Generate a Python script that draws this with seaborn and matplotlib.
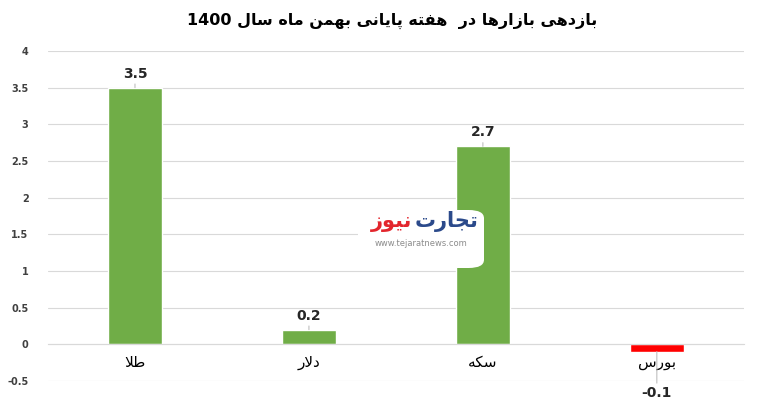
import matplotlib
matplotlib.use("Agg")
import matplotlib.pyplot as plt
from matplotlib.patches import FancyBboxPatch
import seaborn as sns
import pandas as pd

# data
categories = ["طلا", "دلار", "سکه", "بورس"]
values = [3.5, 0.2, 2.7, -0.1]
bar_colors = ["#70AD47", "#70AD47", "#70AD47", "#FF0000"]
y_ticks = [-0.5, 0, 0.5, 1, 1.5, 2, 2.5, 3, 3.5, 4]
title = "بازدهی بازارها در  هفته پایانی بهمن ماه سال 1400"

# minimal persian shaping (matplotlib has no RTL / joining support)
FORMS = {
    "ا": ("\uFE8D", "\uFE8E", None, None),
    "ب": ("\uFE8F", "\uFE90", "\uFE91", "\uFE92"),
    "پ": ("\uFB56", "\uFB57", "\uFB58", "\uFB59"),
    "ت": ("\uFE95", "\uFE96", "\uFE97", "\uFE98"),
    "ج": ("\uFE9D", "\uFE9E", "\uFE9F", "\uFEA0"),
    "د": ("\uFEA9", "\uFEAA", None, None),
    "ر": ("\uFEAD", "\uFEAE", None, None),
    "ز": ("\uFEAF", "\uFEB0", None, None),
    "س": ("\uFEB1", "\uFEB2", "\uFEB3", "\uFEB4"),
    "ط": ("\uFEC1", "\uFEC2", "\uFEC3", "\uFEC4"),
    "ف": ("\uFED1", "\uFED2", "\uFED3", "\uFED4"),
    "ک": ("\uFB8E", "\uFB8F", "\uFB90", "\uFB91"),
    "ل": ("\uFEDD", "\uFEDE", "\uFEDF", "\uFEE0"),
    "م": ("\uFEE1", "\uFEE2", "\uFEE3", "\uFEE4"),
    "ن": ("\uFEE5", "\uFEE6", "\uFEE7", "\uFEE8"),
    "ه": ("\uFEE9", "\uFEEA", "\uFEEB", "\uFEEC"),
    "و": ("\uFEED", "\uFEEE", None, None),
    "ی": ("\uFBFC", "\uFBFD", "\uFBFE", "\uFBFF"),
    "\uFEFB": ("\uFEFB", "\uFEFC", None, None),
}


def shape_word(w):
    w = w.replace("لا", "\uFEFB")
    res = []
    for i, c in enumerate(w):
        if c not in FORMS:
            res.append(c)
            continue
        iso, fin, ini, med = FORMS[c]
        prev = w[i - 1] if i > 0 else ""
        nxt = w[i + 1] if i + 1 < len(w) else ""
        jp = prev in FORMS and FORMS[prev][2] is not None
        jn = nxt in FORMS and ini is not None
        if jp and jn:
            res.append(med)
        elif jp:
            res.append(fin)
        elif jn:
            res.append(ini)
        else:
            res.append(iso)
    return "".join(reversed(res))


def fa(text):
    words = text.split(" ")
    return " ".join(shape_word(w) if any(ch in FORMS for ch in w) else w
                    for w in reversed(words))


sns.set_style("white")
plt.rcParams["font.family"] = ["DejaVu Sans"]

df = pd.DataFrame({"cat": [fa(c) for c in categories], "val": values})

fig = plt.figure(figsize=(7.68, 4.13), dpi=100)
ax = fig.add_axes([0.0625, 0.0775, 0.906, 0.799])

sns.barplot(data=df, x="cat", y="val", hue="cat", palette=bar_colors,
            width=0.31, legend=False, saturation=1, ax=ax, zorder=2)

ax.set_ylim(-0.5, 4)
ax.set_yticks(y_ticks)
ax.set_yticklabels([f"{t:g}" for t in y_ticks], fontsize=7, color="#404040",
                   fontweight="bold")
ax.yaxis.grid(True, color="#D9D9D9", lw=0.8)
ax.set_axisbelow(True)
for s in ["top", "right", "left"]:
    ax.spines[s].set_visible(False)
ax.spines["bottom"].set_position(("data", 0))
ax.spines["bottom"].set_color("#D9D9D9")
ax.tick_params(axis="x", length=0, pad=8, labelsize=11, colors="black")
ax.tick_params(axis="y", length=0, pad=14)
ax.set_xlabel("")
ax.set_ylabel("")

# data labels with leader lines
for i, v in enumerate(values):
    off = 5 if v >= 0 else -25
    ax.annotate(f"{v:g}", xy=(i, v), xytext=(0, off), textcoords="offset points",
                ha="center", va="bottom" if v >= 0 else "top",
                fontsize=10, fontweight="bold", color="#262626",
                annotation_clip=False,
                arrowprops=dict(arrowstyle="-", color="#BFBFBF", lw=0.8,
                                shrinkA=0, shrinkB=0))

fig.text(0.51, 0.95, fa(title), ha="center", va="center",
         fontsize=11.5, fontweight="bold", color="black")

# watermark logo
box = FancyBboxPatch((358 / 768, 1 - 268 / 413), 126 / 768, 58 / 413,
                     boxstyle="round,pad=0,rounding_size=0.02",
                     transform=fig.transFigure, facecolor="white",
                     edgecolor="none", zorder=5)
fig.patches.append(box)
fig.text(446 / 768, 1 - 222 / 413, fa("تجارت"), ha="center", va="center",
         fontsize=15, fontweight="bold", color="#2B4A8B", zorder=6)
fig.text(392 / 768, 1 - 222 / 413, fa("نیوز"), ha="center", va="center",
         fontsize=15, fontweight="bold", color="#E3262D", zorder=6)
fig.text(421 / 768, 1 - 243 / 413, "www.tejaratnews.com", ha="center",
         va="center", fontsize=6, color="#8C8C8C", zorder=6)

fig.savefig("out.png", dpi=100)
